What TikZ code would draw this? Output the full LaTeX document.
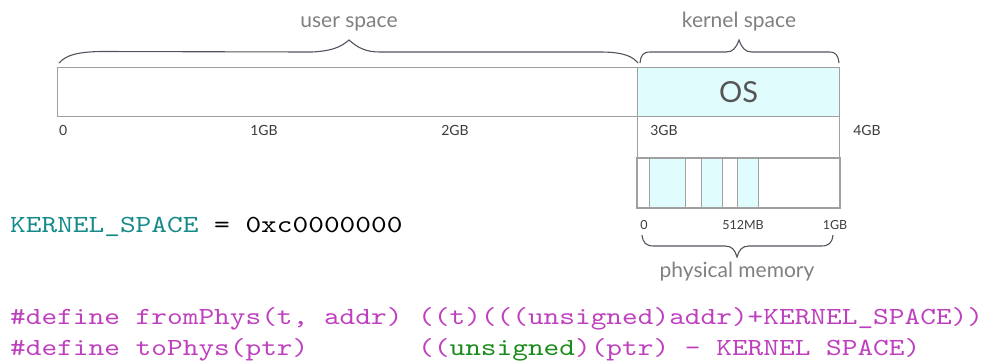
\documentclass[tikz,border=0pt]{standalone}
\usepackage{fontspec}
\setmainfont{Lato}
\newfontfamily\codefont{lmmono10-regular.otf}[FakeStretch=1.215]
\definecolor{memcyan}{RGB}{224,252,252}
\definecolor{boxgray}{RGB}{160,160,160}
\definecolor{bracegray}{RGB}{80,84,92}
\definecolor{labelgray}{RGB}{128,128,128}
\definecolor{ostext}{RGB}{85,85,85}
\definecolor{ticktext}{RGB}{60,60,60}
\definecolor{codeteal}{RGB}{20,138,138}
\definecolor{codemag}{RGB}{190,64,190}
\definecolor{codegreen}{RGB}{26,138,26}
\begin{document}
\begin{tikzpicture}[x=1pt,y=-1pt,
  region/.style={draw=boxgray,line width=1.2pt,inner sep=0pt,anchor=north west},
  block/.style={draw=boxgray,line width=1pt,fill=memcyan,inner sep=0pt,anchor=north west,minimum height=49pt},
  bracepath/.style={draw=bracegray,line width=1.1pt},
  spacelabel/.style={text=labelgray,font=\fontsize{21}{24}\selectfont,anchor=base,inner sep=0pt},
  tick/.style={text=ticktext,font=\fontsize{14}{16}\selectfont,anchor=base,inner sep=0pt},
  smalltick/.style={text=ticktext,font=\fontsize{12.5}{14}\selectfont,anchor=base,inner sep=0pt},
  code/.style={font=\codefont\fontsize{24.6}{30}\selectfont,anchor=base west,inner sep=0pt}]
\useasboundingbox (0,0) rectangle (982,360);

% virtual address space bar
\node[region,minimum width=580pt,minimum height=49pt] (user) at (57,67) {};
\node[region,fill=memcyan,minimum width=202pt,minimum height=49pt,
      text=ostext,font=\fontsize{29}{32}\selectfont] (os) at (637,67) {OS};
% window of the kernel half and the physical memory strip
\node[region,minimum width=202pt,minimum height=42pt] (kwin) at (637,116) {};
\node[region,minimum width=202pt,minimum height=49pt] (phys) at (637,158) {};
% used frames in physical memory
\node[block,minimum width=36pt] (f1) at (649,158) {};
\node[block,minimum width=21pt] (f2) at (701,158) {};
\node[block,minimum width=21pt] (f3) at (737,158) {};
\draw[region] (phys.north west) rectangle (phys.south east);

% address ticks
\node[tick,anchor=base west] (t0) at (59,135) {0};
\node[tick] (t1) at (264,135) {1GB};
\node[tick] (t2) at (455,135) {2GB};
\node[tick] (t3) at (664,135) {3GB};
\node[tick] (t4) at (867,135) {4GB};
\node[smalltick] (p0) at (644,229) {0};
\node[smalltick] (p1) at (743,229) {512MB};
\node[smalltick] (p2) at (835,229) {1GB};

% braces
\path (59,63) coordinate (ua) (638,63) coordinate (ub) (349,40) coordinate (ut);
\draw[bracepath] (ua) .. controls (66,55) and (78,52) .. (100,51.5)
  -- (312,52) .. controls (330,51) and (340,48) .. (ut)
  .. controls (358,48) and (366,52) .. (380,52)
  -- (600,52) .. controls (625,52) and (633,57) .. (ub);
\path (640,63) coordinate (ka) (839,63) coordinate (kb) (739,40) coordinate (kt);
\draw[bracepath] (ka) .. controls (641,55) and (643,52) .. (650,52)
  -- (726,52) .. controls (733,52) and (736,48) .. (kt)
  .. controls (742,48) and (745,52) .. (752,52)
  -- (829,52) .. controls (836,52) and (838,55) .. (kb);
\path (642,235) coordinate (pa) (833,235) coordinate (pb) (737,257) coordinate (pt);
\draw[bracepath] (pa) .. controls (643,243) and (646,246) .. (654,246)
  -- (725,246) .. controls (732,246) and (735,250) .. (pt)
  .. controls (739,250) and (742,246) .. (749,246)
  -- (821,246) .. controls (829,246) and (832,243) .. (pb);

\node[spacelabel] (ul) at (349,27) {user space};
\node[spacelabel] (kl) at (739,27) {kernel space};
\node[spacelabel] (pl) at (737,277) {physical memory};

% code
\node[code] (kdef) at (10,232) {\textcolor{codeteal}{KERNEL\_SPACE} = 0xc0000000};
\node[code,text=codemag] (from) at (10,324) {\#define fromPhys(t, addr) ((t)(((unsigned)addr)+KERNEL\_SPACE))};
\node[code,text=codemag] (to) at (10,355) {\#define toPhys(ptr)\hphantom{0000000}((\textcolor{codegreen}{unsigned})(ptr) - KERNEL SPACE)};
\end{tikzpicture}
\end{document}
